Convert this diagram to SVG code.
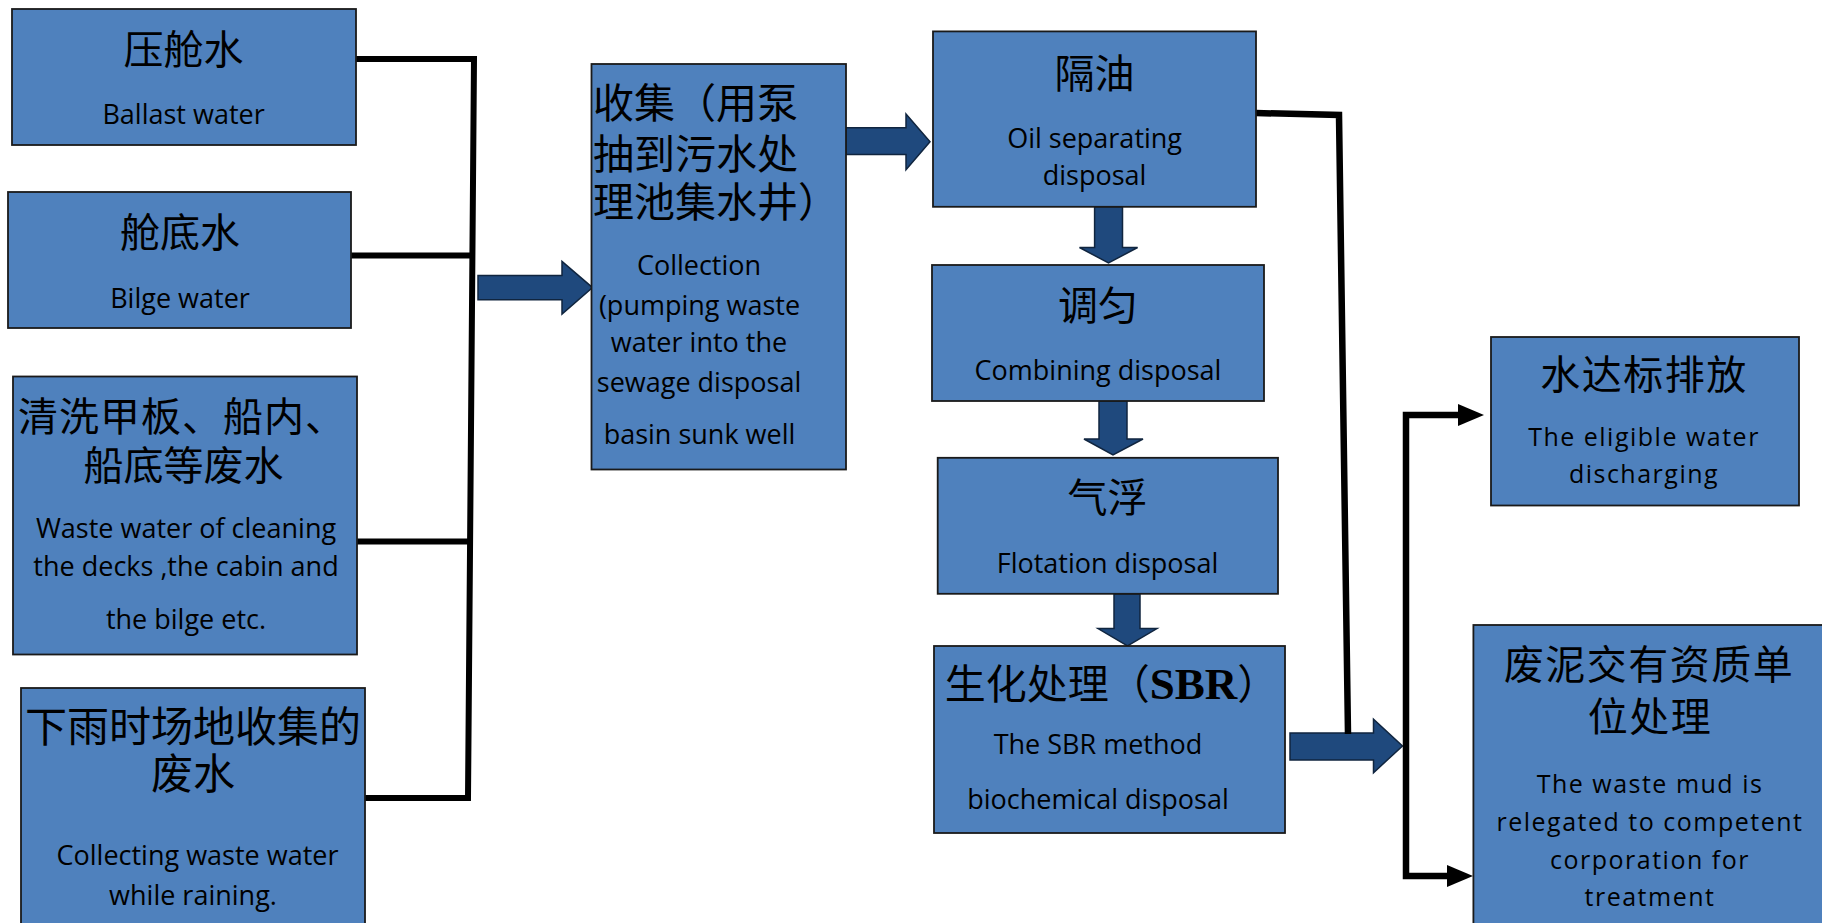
<svg xmlns="http://www.w3.org/2000/svg" width="1822" height="923" viewBox="0 0 1822 923">
<style>
.box{fill:#4F81BD;stroke:#1a1a1a;stroke-width:1.8}
.zh{font-family:"Noto Sans CJK SC",sans-serif;font-size:40px;fill:#000}
.en{font-family:"Open Sans",sans-serif;font-size:27px;fill:#000}
.enw{font-family:"Open Sans",sans-serif;font-size:25px;letter-spacing:1.5px;fill:#000}
.c{text-anchor:middle}
.blk{fill:#1F497D;stroke:#10253f;stroke-width:1.5}
.wire{fill:none;stroke:#000;stroke-width:6;stroke-linejoin:miter}
.head{fill:#000}
.sbr{font-family:"Liberation Serif",serif;font-weight:bold;font-size:45px}
</style>
<rect width="1822" height="923" fill="#fff"/>
<g id="connectors">
<polyline class="wire" points="355,59 474,59 468,798 364,798"/>
<line class="wire" x1="351" y1="255.6" x2="472" y2="255.6"/>
<line class="wire" x1="356" y1="541.5" x2="470" y2="541.5"/>
<polygon class="blk" points="478,275.5 562,275.5 562,261.5 592.5,287.6 562,314 562,299.8 478,299.8"/>
<polygon class="blk" points="846,127.8 906,127.8 906,114 930,141.8 906,169.7 906,154.5 846,154.5"/>
<polygon class="blk" points="1094.6,206.8 1122.5,206.8 1122.5,247.5 1137.6,247.5 1108.5,263 1079.5,247.5 1094.6,247.5"/>
<polygon class="blk" points="1099,401 1127,401 1127,439 1143,439 1113,455 1084,439 1099,439"/>
<polygon class="blk" points="1114,594 1140,594 1140,628.6 1157,628.6 1127.5,646 1098,628.6 1114,628.6"/>
<polygon class="blk" points="1290,733 1373.5,733 1373.5,719.3 1402.5,746 1373.5,772.7 1373.5,760 1290,760"/>
<polyline class="wire" points="1256,113 1339,115 1348,734" style="stroke-width:6.5"/>
<polyline class="wire" points="1462,415 1406,415 1406,876 1450,876" style="stroke-width:6.5"/>
<polygon class="head" points="1458,404 1484,415 1458,426"/>
<polygon class="head" points="1447,865 1473,876 1447,887"/>
</g>
<g id="ballast">
<rect class="box" x="12" y="9" width="344" height="136"/>
<text class="zh c" x="183.6" y="64">压舱水</text>
<text class="en c" x="183.6" y="124">Ballast water</text>
</g>
<g id="bilge">
<rect class="box" x="8" y="192" width="343" height="136"/>
<text class="zh c" x="180" y="247">舱底水</text>
<text class="en c" x="180" y="308">Bilge water</text>
</g>
<g id="cleaning">
<rect class="box" x="13" y="376.5" width="344" height="278"/>
<text class="zh c" x="182" y="431" style="letter-spacing:1px">清洗甲板、船内、</text>
<text class="zh c" x="183.6" y="480">船底等废水</text>
<text class="en c" x="186" y="538">Waste water of cleaning</text>
<text class="en c" x="186" y="576">the decks ,the cabin and</text>
<text class="en c" x="186" y="628.6">the bilge etc.</text>
</g>
<g id="raining">
<rect class="box" x="21" y="688" width="344" height="245"/>
<text class="zh c" x="193" y="742" style="font-size:42px">下雨时场地收集的</text>
<text class="zh c" x="193" y="789" style="font-size:42px">废水</text>
<text class="en c" x="197.5" y="864.5">Collecting waste water</text>
<text class="en c" x="193" y="905">while raining.</text>
</g>
<g id="collection">
<rect class="box" x="591.5" y="64" width="254.5" height="405.5"/>
<text class="zh" x="593" y="118" style="font-size:41px">收集（用泵</text>
<text class="zh" x="593" y="169" style="font-size:41px">抽到污水处</text>
<text class="zh" x="593" y="217" style="font-size:41px">理池集水井）</text>
<text class="en c" x="699" y="275.4">Collection</text>
<text class="en c" x="699.5" y="315">(pumping waste</text>
<text class="en c" x="699" y="352">water into the</text>
<text class="en c" x="699" y="391.6">sewage disposal</text>
<text class="en c" x="699.5" y="444">basin sunk well</text>
</g>
<g id="oil">
<rect class="box" x="933" y="31.4" width="323" height="175.4"/>
<text class="zh c" x="1094.6" y="88">隔油</text>
<text class="en c" x="1094.6" y="147.6">Oil separating</text>
<text class="en c" x="1094.6" y="184.8">disposal</text>
</g>
<g id="combining">
<rect class="box" x="932" y="265" width="332" height="136"/>
<text class="zh c" x="1098" y="320">调匀</text>
<text class="en c" x="1098" y="380">Combining disposal</text>
</g>
<g id="flotation">
<rect class="box" x="937.7" y="457.8" width="340.3" height="136"/>
<text class="zh c" x="1107.5" y="512">气浮</text>
<text class="en c" x="1107.5" y="573">Flotation disposal</text>
</g>
<g id="sbr">
<rect class="box" x="934" y="646" width="351" height="187"/>
<text class="zh" x="944.7" y="699" style="font-size:41px">生化处理（<tspan class="sbr">SBR</tspan>）</text>
<text class="en c" x="1098" y="754">The SBR method</text>
<text class="en c" x="1098" y="808.8">biochemical disposal</text>
</g>
<g id="eligible">
<rect class="box" x="1491" y="337" width="308" height="168.5"/>
<text class="zh c" x="1644" y="389" style="letter-spacing:1.5px">水达标排放</text>
<text class="enw c" x="1644" y="446">The eligible water</text>
<text class="enw c" x="1644" y="483.4">discharging</text>
</g>
<g id="wastemud">
<rect class="box" x="1473.4" y="625" width="360" height="310"/>
<text class="zh c" x="1649" y="679" style="letter-spacing:1.5px">废泥交有资质单</text>
<text class="zh c" x="1650" y="731" style="letter-spacing:1.5px">位处理</text>
<text class="enw c" x="1650" y="792.5">The waste mud is</text>
<text class="enw c" x="1650" y="831">relegated to competent</text>
<text class="enw c" x="1650" y="869">corporation for</text>
<text class="enw c" x="1650" y="906">treatment</text>
</g>
</svg>
